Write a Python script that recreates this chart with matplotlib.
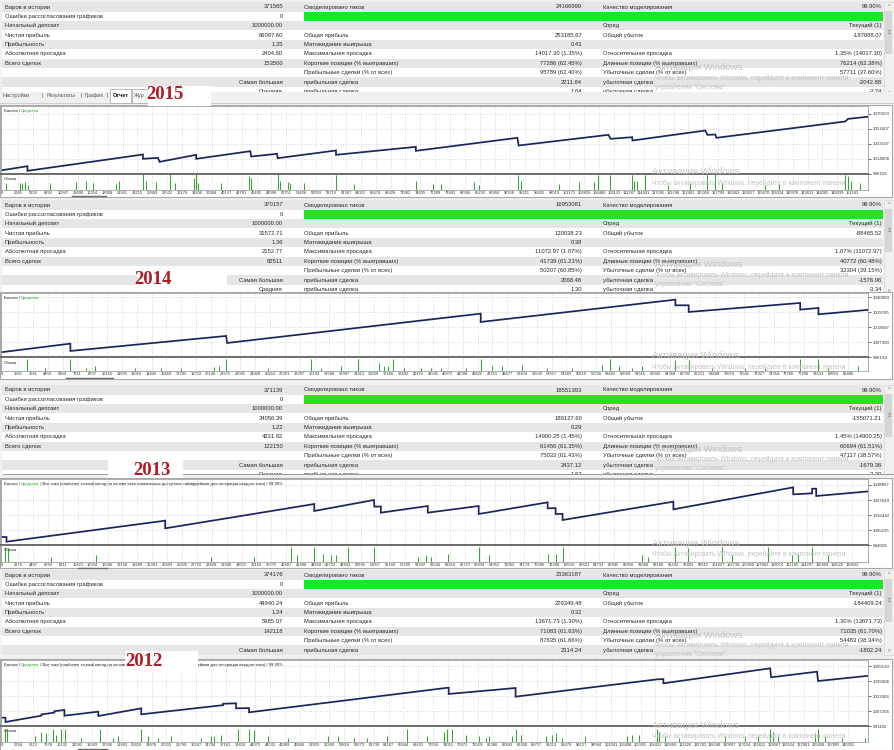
import matplotlib
matplotlib.use("Agg")
import matplotlib.pyplot as plt
from matplotlib.patches import Rectangle

plt.rcParams['font.family'] = ['Liberation Sans', 'DejaVu Sans']

# ---------------- DATA ----------------
years = ["2015", "2014", "2013", "2012"]

left_labels = ["Баров в истории", "Ошибки рассогласования графиков", "Начальный депозит",
               "Чистая прибыль", "Прибыльность", "Абсолютная просадка", "Всего сделок",
               "", "", ""]
mid_labels = ["Смоделировано тиков", "", "", "Общая прибыль", "Матожидание выигрыша",
              "Максимальная просадка", "Короткие позиции (% выигравших)",
              "Прибыльные сделки (% от всех)", "прибыльная сделка", "прибыльная сделка"]
right_labels = ["Качество моделирования", "", "Спред", "Общий убыток", "",
                "Относительная просадка", "Длинные позиции (% выигравших)",
                "Убыточные сделки (% от всех)", "убыточная сделка", "убыточная сделка"]

left_vals_2015 = ["371565", "0", "1000000.00", "66097.60", "1.35", "2404.60", "153500", "", "Самая большая", "Средняя"]
mid_vals_2015 = ["24166999", "", "", "253185.67", "0.43", "14017.30 (1.35%)", "77286 (62.45%)", "95789 (62.40%)", "2211.84", "1.64"]
right_vals_2015 = ["99.90%", "", "Текущий (1)", "-187088.07", "", "1.35% (14017.30)", "76214 (62.38%)", "57711 (37.60%)", "-2042.88", "-3.24"]

left_vals_2014 = ["370157", "0", "1000000.00", "31572.71", "1.36", "2152.77", "82511", "", "Самая большая", "Средняя"]
mid_vals_2014 = ["16953081", "", "", "120038.23", "0.38", "11072.97 (1.07%)", "41739 (61.21%)", "50207 (60.85%)", "2068.48", "1.30"]
right_vals_2014 = ["99.90%", "", "Текущий (1)", "-88465.52", "", "1.07% (11072.97)", "40772 (60.48%)", "32304 (39.15%)", "-1576.96", "-3.34"]

left_vals_2013 = ["371139", "0", "1000000.00", "34056.39", "1.22", "4231.92", "122150", "", "Самая большая", "Средняя"]
mid_vals_2013 = ["18551393", "", "", "189127.60", "0.29", "14900.25 (1.45%)", "61456 (61.35%)", "75033 (61.43%)", "2437.12", "1.62"]
right_vals_2013 = ["99.90%", "", "Текущий (1)", "-155071.21", "", "1.45% (14900.25)", "60694 (61.51%)", "47117 (38.57%)", "-1679.36", "-3.29"]

left_vals_2012 = ["374176", "0", "1000000.00", "44940.24", "1.24", "5985.07", "142118", "", "Самая большая"]
mid_vals_2012 = ["23363187", "", "", "229349.48", "0.32", "13671.73 (1.30%)", "71083 (61.63%)", "87635 (61.66%)", "2314.24"]
right_vals_2012 = ["99.90%", "", "Текущий (1)", "-184409.24", "", "1.30% (13671.73)", "71035 (61.70%)", "54483 (38.34%)", "-1802.24"]

# balance curves (trade number, balance)
bal_x_2015 = [0, 4625, 4625, 25210, 25210, 27880, 28160, 34690, 34690, 44350, 44480, 49100, 49220, 59600, 59600,
              73830, 73830, 91920, 92150, 108160, 108520, 112380, 112430, 125420, 125780, 127200, 127380,
              150330, 150860, 154400]
bal_y_2015 = [1000000, 1005150, 999400, 1019540, 1014200, 1015430, 1010500, 1019130, 1014200, 1023650, 1017070,
              1020360, 1015020, 1024470, 1019130, 1029000, 1024060, 1040100, 1030640, 1043800, 1038860, 1040910,
              1036800, 1049140, 1043800, 1044200, 1040100, 1060240, 1063530, 1066097]

bal_x_2014 = [0, 6630, 6630, 21620, 21720, 46130, 46130, 64870, 64870, 66150, 66150, 76880, 76880, 78640, 78640, 83410]
bal_y_2014 = [1000000, 1006400, 1000920, 1012120, 1006890, 1028790, 1022570, 1039240, 1035010, 1035010, 1030030,
              1036750, 1031780, 1033020, 1028290, 1031573]

bal_x_2013 = [0, 710, 710, 23220, 23220, 44360, 44360, 52820, 52890, 53810, 53810, 60460, 60460, 67680, 67680,
              77460, 77460, 78590, 78590, 79580, 79580, 95300, 95300, 112290, 112290, 114980, 114980, 115550,
              115550, 122900]
bal_y_2013 = [1000000, 1000000, 996500, 1012210, 1006480, 1024660, 1019430, 1027650, 1022670, 1022800, 1018180,
              1023160, 1018180, 1023160, 1017190, 1025900, 1021420, 1021600, 1017190, 1017300, 1012700, 1026400,
              1020680, 1037110, 1031880, 1032630, 1036110, 1036110, 1030640, 1034056]

bal_x_2012 = [0, 660, 660, 6620, 6620, 8770, 8770, 10430, 10430, 16050, 16050, 23170, 23170, 36740, 36740, 38890,
              38890, 41040, 41040, 74140, 74140, 85230, 85230, 108730, 109730, 109730, 127440, 127600, 135210,
              135380, 143660]
bal_y_2012 = [1000000, 1000000, 995400, 1002190, 1003500, 1005500, 1007000, 1008280, 1002190, 1006490, 1001840,
              1010070, 1003630, 1013500, 1015000, 1015440, 1010070, 1010300, 1005780, 1032300, 1025500, 1031890,
              1022590, 1041200, 1041500, 1036900, 1053010, 1043350, 1049420, 1039410, 1044940]

# volume spikes (trade number, relative volume %)
vol_x_2015 = [890, 3260, 3680, 4150, 4750, 8590, 13340, 15120, 16310, 20460, 20870, 25210, 25800, 27570, 29940,
              30830, 34390, 34690, 34990, 39140, 44170, 44480, 49220, 49690, 51000, 51470, 53960, 59600, 62850,
              73830, 76800, 78280, 84200, 85090, 92100, 92510, 99320, 102880, 105550, 106330, 108400, 112380,
              112660, 113270, 114750, 118780, 122750, 125720, 127200, 128390, 136090, 138460, 150330, 150910,
              151390, 152990]
vol_h_2015 = [43, 43, 43, 49, 32, 43, 49, 53, 43, 36, 53, 96, 53, 49, 96, 43, 74, 96, 43, 43, 85, 74, 96, 53, 49,
              43, 43, 91, 36, 57, 36, 36, 49, 32, 91, 53, 36, 49, 49, 91, 91, 91, 53, 53, 91, 32, 43, 91, 96, 43,
              32, 36, 91, 85, 53, 43]

vol_x_2014 = [2500, 4160, 6630, 8170, 8970, 12810, 15380, 17300, 20500, 20980, 21620, 25630, 29790, 30750, 32670,
              34280, 36360, 36840, 37160, 37640, 38760, 40360, 41320, 42280, 44690, 46130, 47250, 48210, 50130,
              52540, 54940, 57820, 58620, 59420, 60700, 61670, 64870, 66150, 68390, 71590, 73520, 76880, 78640,
              79600, 82480]
vol_h_2014 = [89, 22, 89, 22, 33, 22, 22, 22, 29, 33, 89, 22, 89, 22, 33, 84, 56, 33, 33, 89, 22, 22, 22, 22,
              22, 89, 33, 33, 44, 22, 22, 44, 84, 33, 22, 33, 78, 78, 22, 22, 22, 89, 89, 22, 33]

vol_x_2013 = [470, 950, 7080, 13450, 29740, 35820, 41060, 41910, 44320, 45600, 46730, 47440, 49140, 52820, 59050,
              60180, 60890, 63300, 67680, 69100, 77460, 78590, 79580, 90910, 91760, 95580, 97420, 102240, 103650,
              108750, 112150, 113000, 114980, 117240]
vol_h_2013 = [85, 80, 27, 38, 27, 27, 85, 38, 90, 48, 38, 38, 85, 90, 27, 38, 27, 48, 85, 38, 48, 48, 90, 38,
              27, 85, 80, 85, 38, 85, 38, 48, 90, 38]

vol_x_2012 = [550, 990, 5520, 6620, 7450, 8550, 8990, 9930, 10480, 13240, 16270, 18480, 19310, 23170, 24270,
              25930, 28140, 33100, 34760, 35310, 36410, 39170, 41100, 41930, 44130, 47440, 54060, 55720, 58480,
              60680, 63990, 67300, 70610, 73370, 73920, 74750, 76960, 79160, 80270, 80820, 84680, 85230, 86060,
              90200, 91300, 91850, 92960, 96820, 103710, 104540, 105640, 108680, 108950, 110060, 112260, 119990,
              123300, 125500, 127440, 127980, 128810, 134880, 135430, 136540, 139300, 143160]
vol_h_2012 = [84, 84, 35, 65, 59, 84, 45, 84, 84, 25, 84, 25, 35, 84, 35, 25, 35, 25, 35, 35, 45, 84, 84, 75,
              35, 25, 35, 35, 25, 25, 35, 84, 35, 65, 84, 84, 45, 35, 25, 35, 35, 84, 45, 35, 45, 59, 25, 35, 35,
              45, 45, 84, 65, 35, 25, 35, 35, 35, 84, 65, 35, 59, 84, 35, 25, 25]

# x-axis tick labels (trade numbers)
ticks_2015 = [0, 2985, 5639, 8293, 10947, 13600, 16254, 18908, 21561, 24215, 26869, 29522, 32176, 34830, 37484,
              40137, 42791, 45445, 48098, 50752, 53406, 56059, 58713, 61367, 64021, 66674, 69328, 71982, 74635,
              77289, 79943, 82596, 85250, 87904, 90558, 93211, 95865, 98519, 101172, 103826, 106480, 109133,
              111787, 114441, 117095, 119748, 122402, 125056, 127709, 130363, 133017, 135670, 138324, 140978,
              143632, 146285, 148939, 151593]
ticks_2014 = [0, 1605, 3031, 4458, 5884, 7311, 8737, 10163, 11590, 13016, 14442, 15869, 17295, 18722, 20148,
              21575, 23001, 24428, 25854, 27281, 28707, 30134, 31560, 32987, 34413, 35839, 37266, 38692, 40119,
              41545, 42972, 44398, 45825, 47251, 48677, 50104, 51530, 52957, 54383, 55810, 57236, 58663, 60089,
              61515, 62942, 64368, 65795, 67221, 68648, 70074, 71501, 72927, 74354, 75780, 77206, 78633, 80059,
              81486]
ticks_2013 = [0, 2376, 4487, 6599, 8711, 10823, 12934, 15046, 17158, 19269, 21381, 23493, 25605, 27716, 29828,
              31940, 34052, 36163, 38275, 40387, 42498, 44610, 46722, 48834, 50945, 53057, 55169, 57280, 59392,
              61504, 63616, 65727, 67839, 69951, 72063, 74174, 76286, 78398, 80509, 82621, 84733, 86845, 88956,
              91068, 93180, 95292, 97403, 99515, 101627, 103738, 105850, 107962, 110074, 112185, 114297, 116409,
              118520, 120632]
ticks_2012 = [0, 2764, 5223, 7678, 10135, 12592, 15049, 17506, 19963, 22419, 24876, 27333, 29790, 32247, 34704,
              37161, 39618, 42075, 44532, 46989, 49446, 51903, 54360, 56816, 59273, 61730, 64187, 66644, 69101,
              71558, 74015, 76472, 78929, 81386, 83843, 86300, 88757, 91213, 93670, 96127, 98584, 101041, 103498,
              105955, 108412, 110869, 113326, 115783, 118240, 120697, 123154, 125611, 128067, 130524, 132981,
              135438, 137895, 140352]

# right-axis balance labels
ylab_2015 = [996105, 1014606, 1033107, 1051607, 1070100]
ylab_2014 = [996192, 1007390, 1018587, 1029785, 1040983]
ylab_2013 = [994028, 1005235, 1016442, 1027649, 1038857]
ylab_2012 = [991102, 1007204, 1023304, 1039406, 1055510]

xmax_2015, xmax_2014, xmax_2013, xmax_2012 = 154400, 83410, 122900, 143660

title_tail = " / Все тики (наиболее точный метод на основе всех наименьших доступных таймфреймов для генерации каждого тика) / 99.90%"

# ---------------- LAYOUT / DRAWING ----------------
W, H = 895, 750
fig = plt.figure(figsize=(W / 100, H / 100), dpi=100)
fig.patch.set_facecolor('#f0f0f0')

TXT = '#2a2a2a'
ROW_H = 9.38
GRAY_ROW = '#e6e6e6'
WM = '#c2c2c2'
TSIZE = 4.25


def X(x):
    return x / W


def Y(y):
    return 1 - y / H


def box(x0, y0, x1, y1, fc, ec='none', lw=0.6, z=1):
    fig.add_artist(Rectangle((X(x0), Y(y1)), (x1 - x0) / W, (y1 - y0) / H, transform=fig.transFigure,
                             facecolor=fc, edgecolor=ec, linewidth=lw, zorder=z))


def hline(x0, x1, y, color, lw=0.8, z=5):
    fig.add_artist(plt.Line2D([X(x0), X(x1)], [Y(y), Y(y)], transform=fig.transFigure,
                              color=color, lw=lw, zorder=z))


def txt(x, y, s, size=TSIZE, ha='left', color=TXT, z=3, **kw):
    return fig.text(X(x), Y(y), s, fontsize=size, ha=ha, va='center', color=color, zorder=z, **kw)


def draw_table(row0, lv, mv, rv):
    n = len(lv)
    top = row0 - ROW_H / 2
    bot = row0 + (n - 0.5) * ROW_H
    for i in range(n):
        cy = row0 + i * ROW_H
        box(2, cy - ROW_H / 2, 883.5, cy + ROW_H / 2, GRAY_ROW if i % 2 == 0 else 'white', z=1)
        txt(5, cy, left_labels[i])
        txt(283, cy, lv[i], ha='right')
        txt(304, cy, mid_labels[i])
        txt(582, cy, mv[i], ha='right')
        txt(603, cy, right_labels[i])
        txt(882, cy, rv[i], ha='right')
    # modelling-quality bar
    cy = row0 + ROW_H
    box(304, cy - 4.2, 883, cy + 4.2, '#1fe41f', z=2)
    # scrollbar
    box(884, top, 894, bot, '#f0f0f0', ec='#d8d8d8', lw=0.5, z=2)
    box(885.5, top + 9, 892.5, top + 52, '#d6d6d6', z=2)
    txt(889, top + 4, "^", size=4, ha='center', color='#777777')
    txt(889, top + 31, "≡", size=4, ha='center', color='#777777')
    txt(889, bot - 4, "v", size=3.6, ha='center', color='#777777')


def watermark_table(y0):
    txt(655, y0, "Активация Windows", size=6.8, color=WM, z=20)
    txt(655, y0 + 10.5, "Чтобы активировать Windows, перейдите в компонент панели", size=4.8, color=WM, z=20)
    txt(655, y0 + 19.5, "управления \"Система\".", size=4.8, color=WM, z=20)


def watermark_chart(y0):
    txt(652, y0, "Активация Windows", size=6.8, color=WM, z=20)
    txt(652, y0 + 11, "Чтобы активировать Windows, перейдите в компонент панели", size=4.8, color=WM, z=20)


def draw_chart(top, bal_bot, vol_bot, bottom, xmax, bx, by, vx, vh, ticks, ylab, tail):
    box(0.5, top, 892, bottom, 'white', ec='#a8a8a8', lw=0.8, z=4)
    left, right = 1.5, 868
    atop = top + 1
    axb = fig.add_axes([X(left), Y(bal_bot), (right - left) / W, (bal_bot - atop) / H])
    axb.set_zorder(6)
    step = ylab[1] - ylab[0]
    ymin = ylab[0]
    ymax = ymin + (bal_bot - atop) / 15.0 * step
    axb.plot(bx, by, color='#1c2559', lw=1.25, solid_joinstyle='miter')
    axb.set_xlim(0, xmax)
    axb.set_ylim(ymin, ymax)
    axb.set_xticks(ticks)
    axb.set_yticks(ylab)
    axb.set_yticklabels([str(v) for v in ylab])
    axb.tick_params(axis='x', bottom=False, labelbottom=False)
    axb.tick_params(axis='y', left=False, labelleft=False, right=True, labelright=True, length=2,
                    width=0.5, pad=1.2, labelsize=3.2, colors='#333333')
    axb.grid(True, linestyle=(0, (1, 2)), color='#c4c4c4', lw=0.55)
    for s in axb.spines.values():
        s.set_color('#a0a0a0')
        s.set_linewidth(0.6)
    axb.spines['bottom'].set_color('#6e6e6e')
    axb.spines['bottom'].set_linewidth(1.4)
    t1 = axb.annotate("Баланс / ", xy=(0, 1), xycoords='axes fraction', xytext=(1.5, -2.2),
                      textcoords='offset points', fontsize=3.0, va='top', ha='left', color='#222222')
    t2 = axb.annotate("Средства", xy=(1, 0), xycoords=t1, va='bottom', ha='left', fontsize=3.0,
                      color='#2f9a2f')
    if tail:
        axb.annotate(tail, xy=(1, 0), xycoords=t2, va='bottom', ha='left', fontsize=3.0, color='#222222')

    axv = fig.add_axes([X(left), Y(vol_bot), (right - left) / W, (vol_bot - bal_bot) / H])
    axv.set_zorder(6)
    axv.vlines(vx, 0, vh, color='#34a834', lw=0.75)
    axv.set_xlim(0, xmax)
    axv.set_ylim(0, 100)
    axv.set_xticks(ticks)
    axv.set_xticklabels([str(t) for t in ticks])
    axv.set_yticks([])
    axv.tick_params(axis='x', length=0, pad=1.0, labelsize=2.9, colors='#333333')
    axv.grid(True, axis='x', linestyle=(0, (1, 2)), color='#c4c4c4', lw=0.55)
    for s in axv.spines.values():
        s.set_color('#a0a0a0')
        s.set_linewidth(0.6)
    axv.spines['top'].set_color('#6e6e6e')
    axv.spines['top'].set_linewidth(1.4)
    axv.annotate("Объем", xy=(0, 1), xycoords='axes fraction', xytext=(1.5, -2.5),
                 textcoords='offset points', fontsize=3.0, va='top', ha='left', color='#222222')


def year_label(x0, y0, x1, y1, cx, cy, s):
    box(x0, y0, x1, y1, 'white', z=11)
    fig.text(X(cx), Y(cy), s, fontsize=13.5, fontweight='bold', family=['Liberation Serif', 'DejaVu Serif'],
             color='#b01c26', ha='center', va='center', zorder=12)


# ---- 2015 ----
draw_table(7, left_vals_2015, mid_vals_2015, right_vals_2015)
box(0, 91.5, 895, 104.5, '#f0f0f0', z=5)
hline(0, 895, 102.5, '#c8c8c8', lw=0.6)
box(110, 89, 131, 102.5, 'white', ec='#a0a0a0', lw=0.5, z=5)
box(132, 89, 150, 102.5, '#f7f7f7', ec='#a0a0a0', lw=0.5, z=5)
for x, s in [(3, "Настройки"), (42, "|"), (47, "Результаты"), (81, "|"), (85, "График"), (107, "|")]:
    txt(x, 95.5, s, size=4.0, color='#555555', z=6)
txt(113, 95.5, "Отчет", size=4.0, color='#111111', z=6, fontweight='bold')
txt(134, 95.5, "Жур", size=4.0, color='#555555', z=6)
watermark_table(68)
draw_chart(105, 173.5, 190, 197, xmax_2015, bal_x_2015, bal_y_2015, vol_x_2015, vol_h_2015, ticks_2015,
           ylab_2015, "")
hline(72, 106, 196, '#707070', lw=1.0, z=7)
watermark_chart(172)
year_label(148, 86, 211, 106, 165, 94.5, years[0])

# ---- 2014 ----
draw_table(205, left_vals_2014, mid_vals_2014, right_vals_2014)
watermark_table(265)
draw_chart(292, 357.3, 370.5, 379, xmax_2014, bal_x_2014, bal_y_2014, vol_x_2014, vol_h_2014, ticks_2014,
           ylab_2014, "")
hline(66, 113, 378, '#707070', lw=1.0, z=7)
watermark_chart(356)
year_label(137, 268.5, 227, 292, 153, 280, years[1])

# ---- 2013 ----
draw_table(390, left_vals_2013, mid_vals_2013, right_vals_2013)
box(0, 473.8, 895, 477.5, '#f0f0f0', z=5)
hline(3, 895, 474.2, '#9a9a9a', lw=0.7)
watermark_table(449)
draw_chart(477.5, 545, 561.5, 568, xmax_2013, bal_x_2013, bal_y_2013, vol_x_2013, vol_h_2013, ticks_2013,
           ylab_2013, title_tail)
hline(78, 107, 567.5, '#707070', lw=1.0, z=7)
watermark_chart(543)
year_label(108, 459, 183, 477.5, 152, 470.5, years[2])

# ---- 2012 ----
draw_table(575, left_vals_2012, mid_vals_2012, right_vals_2012)
watermark_table(635)
draw_chart(659, 726, 742, 750, xmax_2012, bal_x_2012, bal_y_2012, vol_x_2012, vol_h_2012, ticks_2012,
           ylab_2012, title_tail)
hline(78, 107, 748.5, '#707070', lw=1.0, z=7)
watermark_chart(725)
year_label(125, 651, 198, 672, 144, 661, years[3])

fig.savefig("out.png", dpi=100, facecolor=fig.get_facecolor())
